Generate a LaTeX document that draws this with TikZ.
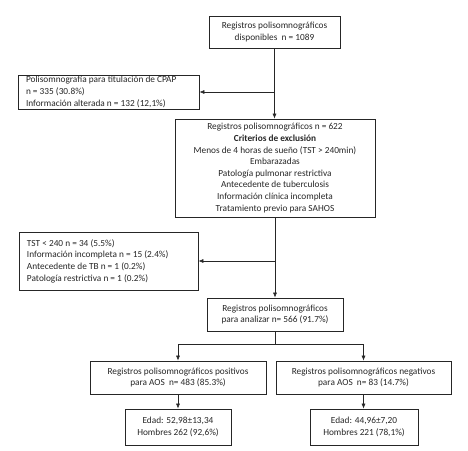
\documentclass[tikz,border=0pt]{standalone}
\usepackage{fontspec}
\setmainfont{Carlito}
\usetikzlibrary{arrows.meta, positioning}

\tikzset{
  caja/.style={draw=black!85, line width=0.7pt, text=black!85, font=\fontsize{9.3}{11.6}\selectfont, align=center, inner sep=0pt},
  cajaizq/.style={caja, align=left, text width=#1},
  flecha/.style={draw=black!85, line width=0.6pt, -{Latex[length=5pt,width=4pt]}},
  linea/.style={draw=black!85, line width=0.6pt}
}

\begin{document}
\begin{tikzpicture}[x=1pt, y=-1pt]
      \useasboundingbox (0,0) rectangle (468,450);

      \node[caja, minimum width=131, minimum height=32] (disp) at (274.5,32)
        {Registros polisomnográficos\\disponibles\ \ n = 1089};
      \node[caja, minimum width=181, minimum height=34] (cpap) at (108.5,92)
        {\parbox{165pt}{Polisomnografía para titulación de CPAP\\n = 335 (30.8\%)\\Información alterada n = 132 (12,1\%)}};
      \node[caja, minimum width=200, minimum height=98] (crit) at (275,168)
        {Registros polisomnográficos n = 622\\\textbf{Criterios de exclusión}\\Menos de 4 horas de sueño (TST > 240min)\\Embarazadas\\Patología pulmonar restrictiva\\Antecedente de tuberculosis\\Información clínica incompleta\\Tratamiento previo para SAHOS};
      \node[caja, minimum width=179, minimum height=58] (tst) at (108.5,261)
        {\parbox{163pt}{TST < 240 n = 34 (5.5\%)\\Información incompleta n = 15 (2.4\%)\\Antecedente de TB n = 1 (0.2\%)\\Patología restrictiva n = 1 (0.2\%)}};
      \node[caja, minimum width=136, minimum height=33] (anal) at (275,314.5)
        {Registros polisomnográficos\\para analizar n= 566 (91.7\%)};
      \node[caja, minimum width=176, minimum height=33] (pos) at (178,377.5)
        {Registros polisomnográficos positivos\\para AOS\ \ n= 483 (85.3\%)};
      \node[caja, minimum width=175, minimum height=33] (neg) at (363.5,377.5)
        {Registros polisomnográficos negativos\\para AOS\ \ n= 83 (14.7\%)};
      \node[caja, minimum width=106, minimum height=36] (edadp) at (178,427)
        {Edad: 52,98±13,34\\Hombres 262 (92,6\%)};
      \node[caja, minimum width=108, minimum height=36] (edadn) at (364,427)
        {Edad: 44,96±7,20\\Hombres 221 (78,1\%)};

      % tronco principal
      \draw[flecha] (disp.south) -- (disp.south |- crit.north);
      \draw[flecha] (disp.south |- cpap.east) -- (cpap.east);
      \draw[flecha] (crit.south) -- (crit.south |- anal.north);
      \draw[flecha] (crit.south |- tst.east) -- (tst.east);

      % division final
      \coordinate (split) at ([yshift=-13pt]anal.south);
      \draw[linea] (anal.south) -- (split);
      \draw[flecha] (split) -| (pos.north);
      \draw[flecha] (split) -| (neg.north);
      \draw[flecha] (pos.south) -- (edadp.north);
      \draw[flecha] (neg.south) -- (neg.south |- edadn.north);
    \end{tikzpicture}
\end{document}
